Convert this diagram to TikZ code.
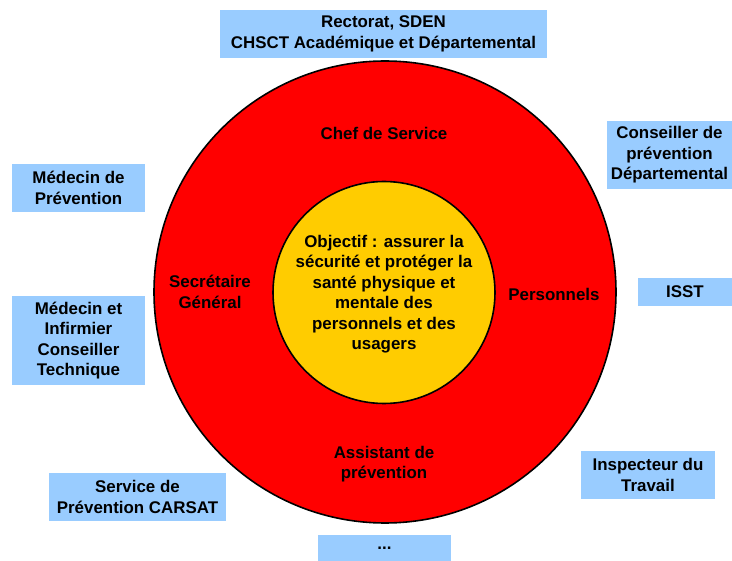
\documentclass[tikz,border=0pt]{standalone}
\usepackage{fontspec}
\setmainfont{Liberation Sans}
\definecolor{boxblue}{HTML}{99CCFF}
\definecolor{ringred}{HTML}{FF0000}
\definecolor{coreyellow}{HTML}{FFCC00}
\begin{document}
\begin{tikzpicture}[x=1pt,y=-1pt,
    txt/.style={font=\fontsize{16.9}{20.5}\selectfont\bfseries, align=center, inner sep=0pt},
    box/.style={txt, fill=boxblue}]
  \useasboundingbox (0,0) rectangle (732,561);
  \draw[fill=ringred, line width=1.6pt] (385,292) circle [radius=231pt];
  \draw[fill=coreyellow, line width=1.6pt] (384,292.5) circle [radius=111pt];
  \draw
    (384,294) node[txt] (goal){Objectif : assurer la\\ sécurité et protéger la\\ santé physique et\\ mentale des\\ personnels et des\\ usagers}
    (384,133) node[txt] (chef){Chef de Service}
    (210,292) node[txt] (sg){Secrétaire\\ Général}
    (554,294) node[txt] (pers){Personnels}
    (384,464) node[txt] (ap){Assistant de\\ prévention};
  \begin{scope}[every node/.style={box}]
    \node[minimum width=327pt, minimum height=48pt] (rect) at (383.5,34) {Rectorat, SDEN\\ CHSCT Académique et Départemental};
    \node[minimum width=133pt, minimum height=48pt] (medprev) at (78.5,188) {Médecin de\\ Prévention};
    \node[minimum width=125pt, minimum height=68pt] (cons) at (669.5,155) {Conseiller de\\ prévention\\ Départemental};
    \node[minimum width=94pt, minimum height=28pt] (isst) at (685,292) {ISST};
    \node[minimum width=133pt, minimum height=89pt] (medinf) at (78.5,340.5) {Médecin et\\ Infirmier\\ Conseiller\\ Technique};
    \node[minimum width=177pt, minimum height=48pt] (carsat) at (137.5,497) {Service de\\ Prévention CARSAT};
    \node[minimum width=134pt, minimum height=48pt] (insp) at (648,475) {Inspecteur du\\ Travail};
    \node[minimum width=133pt, minimum height=26pt] (etc) at (384.5,548) {...};
  \end{scope}
\end{tikzpicture}
\end{document}
